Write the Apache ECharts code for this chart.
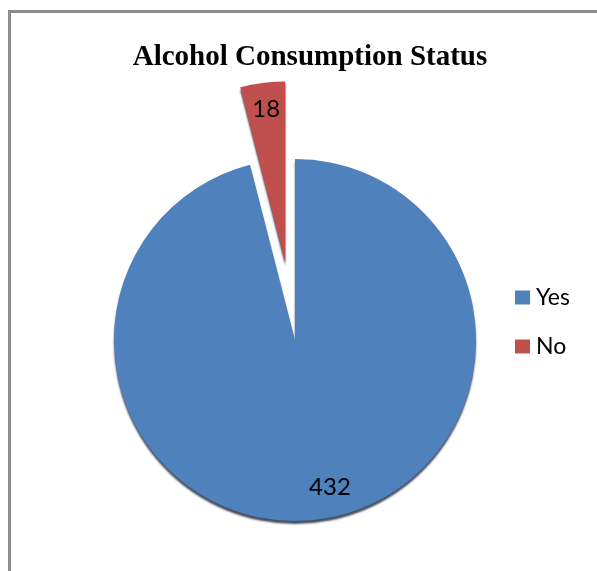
<!DOCTYPE html>
<html>
<head>
<meta charset="utf-8">
<script src="https://cdn.jsdelivr.net/npm/echarts@6/dist/echarts.min.js"></script>
<style>
  html, body { margin: 0; padding: 0; background: #fff; }
  #chart { width: 597px; height: 571px; }
  .frame {
    position: absolute; left: 8px; top: 10px; right: 0; bottom: 0;
    border-top: 3px solid #8c8c8c; border-left: 3px solid #8c8c8c;
    pointer-events: none;
  }
</style>
</head>
<body>
<div id="chart"></div>
<div class="frame"></div>
<script>
// data
const categories = ['Yes', 'No'];
const counts = [432, 18];
const colors = ['#4F81BD', '#C0504D'];

const pieCenter = [295, 340];

const chart = echarts.init(document.getElementById('chart'));

const option = {
  animation: false,
  title: {
    text: 'Alcohol Consumption Status',
    left: 305,
    top: 38,
    textAlign: 'center',
    textStyle: {
      fontFamily: 'Liberation Serif',
      fontWeight: 'bold',
      fontSize: 29,
      color: '#000'
    }
  },
  legend: {
    orient: 'vertical',
    left: 515,
    top: 286,
    padding: 0,
    icon: 'rect',
    itemWidth: 15,
    itemHeight: 14,
    itemGap: 26,
    textStyle: { fontFamily: 'Lato', fontSize: 23, color: '#000', padding: [0, 0, 0, 1] },
    data: categories
  },
  series: [
    {
      type: 'pie',
      center: pieCenter,
      radius: 181,
      startAngle: 90,
      clockwise: true,
      selectedMode: 'multiple',
      selectedOffset: 78,
      emphasis: { disabled: true },
      itemStyle: {
        borderWidth: 0,
        shadowColor: 'rgba(10, 20, 40, 0.75)',
        shadowBlur: 2,
        shadowOffsetY: 3
      },
      label: {
        show: true,
        position: 'inside',
        formatter: '{c}',
        fontFamily: 'Lato',
        fontSize: 24,
        color: '#000'
      },
      labelLine: { show: false },
      // push the inside labels outward towards the rim, like the original
      labelLayout: function (params) {
        const r = params.labelRect;
        const vx = r.x + r.width / 2 - pieCenter[0];
        const vy = r.y + r.height / 2 - pieCenter[1];
        const len = Math.sqrt(vx * vx + vy * vy) || 1;
        return { dx: 58 * vx / len + (vy > 0 ? 16 : 0), dy: 58 * vy / len - 3 };
      },
      data: categories.map((name, i) => ({
        name: name,
        value: counts[i],
        selected: name === 'No',
        itemStyle: { color: colors[i] }
      }))
    }
  ]
};

chart.setOption(option);
window.addEventListener('resize', function () {
  chart.resize();
});
</script>
</body>
</html>
